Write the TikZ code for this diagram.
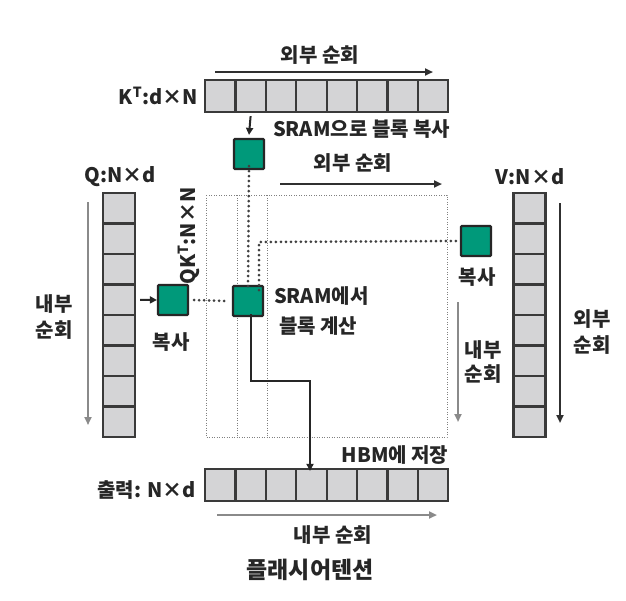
\documentclass[tikz,border=0pt]{standalone}
\usepackage{fontspec}
\setmainfont{Noto Sans CJK KR}
\usetikzlibrary{arrows.meta}
\definecolor{blockgreen}{HTML}{00997A}
\definecolor{cellgray}{HTML}{D4D4D6}
\definecolor{edgegray}{HTML}{3A3A3A}
\definecolor{arrowgray}{HTML}{8A8A8A}
\definecolor{arrowdark}{HTML}{303030}
\begin{document}
\begin{tikzpicture}[x=1pt,y=-1pt,
  cellh/.style={draw=edgegray,fill=cellgray,line width=2.2pt,minimum width=30.4pt,minimum height=32pt,inner sep=0pt},
  cellv/.style={draw=edgegray,fill=cellgray,line width=2.2pt,minimum width=32pt,minimum height=30.5pt,inner sep=0pt},
  blk/.style={draw=black!85,fill=blockgreen,line width=2.2pt,minimum size=30pt,inner sep=0pt,rounded corners=1pt},
  lbl/.style={font=\fontsize{20}{26}\selectfont\bfseries,inner sep=1pt,text=black!85,align=center},
  ttl/.style={font=\fontsize{23}{26}\selectfont\bfseries,inner sep=1pt,text=black!85},
  darrow/.style={draw=arrowdark,line width=2.6pt,-{Triangle[length=8pt,width=7pt]}},
  garrow/.style={draw=arrowgray,line width=2.6pt,-{Triangle[length=8pt,width=7pt]}},
  thinarrow/.style={draw=black!85,line width=2pt,-{Triangle[length=7pt,width=7pt]}},
  griddot/.style={draw=gray,line width=0.9pt,dash pattern=on 0.9pt off 1.6pt},
  bigdot/.style={draw=black!75,line width=3pt,line cap=round,dash pattern=on 0pt off 5pt},
  solidline/.style={draw=black!85,line width=2.4pt}
]
\useasboundingbox (0,0) rectangle (626,600);
\fill[white] (0,0) rectangle (626,600);

% dotted QK^T matrix frame
\draw[griddot] (206,195) rectangle (447,437);
\coordinate (g1t) at (237,195); \coordinate (g1b) at (237,437);
\coordinate (g2t) at (267,195); \coordinate (g2b) at (267,437);
\draw[griddot] (g1t) -- (g1b);
\draw[griddot] (g2t) -- (g2b);

% K^T row
\foreach \i in {1,...,8} \node[cellh] (k\i) at ({205+30.4*(\i-0.5)},96) {};
% output row
\foreach \i in {1,...,8} \node[cellh] (o\i) at ({205+30.4*(\i-0.5)},485) {};
% Q column
\foreach \i in {1,...,8} \node[cellv] (q\i) at (119,{193+30.5*(\i-0.5)}) {};
% V column
\foreach \i in {1,...,8} \node[cellv] (v\i) at (529.5,{193+30.5*(\i-0.5)}) {};

% green blocks
\node[blk] (bt) at (249,154) {};
\node[blk] (bc) at (248,301) {};
\node[blk] (bl) at (173,300) {};
\node[blk] (br) at (476,241) {};

% arrows into blocks
\draw[thinarrow] ([yshift=-3pt]k2.south) -- ([yshift=3pt]bt.north);
\draw[thinarrow] ([xshift=4pt]q4.east) -- (bl.west);

% dotted connections
\draw[bigdot] ([yshift=4pt]bt.south) -- ([yshift=-4pt]bc.north);
\coordinate (rc) at (259,242);
\draw[bigdot] ([xshift=-4pt]br.west) -- (rc) -- ([yshift=-6pt]bc.north -| rc);
\draw[bigdot] ([xshift=5pt]bl.east) -- ([xshift=-5pt]bc.west);

% result to HBM
\coordinate (s1) at (251,381);
\coordinate (s2) at (310,381);
\draw[solidline] ([xshift=3pt,yshift=3pt]bc.south) -- (s1) -- (s2) -- (310,455);
\draw[thinarrow] (310,454) -- ([yshift=-3pt]o4.north -| s2);

% loop arrows
\coordinate (a1s) at (215,72); \coordinate (a1e) at (433,72);
\draw[darrow] (a1s) -- (a1e);
\coordinate (a2s) at (280,184); \coordinate (a2e) at (442,184);
\draw[darrow] (a2s) -- (a2e);
\coordinate (a3s) at (88,202); \coordinate (a3e) at (88,425);
\draw[garrow] (a3s) -- (a3e);
\coordinate (a4s) at (458,302); \coordinate (a4e) at (458,422);
\draw[garrow] (a4s) -- (a4e);
\coordinate (a5s) at (560,203); \coordinate (a5e) at (560,423);
\draw[darrow] (a5s) -- (a5e);
\coordinate (a6s) at (217,515); \coordinate (a6e) at (437,515);
\draw[garrow] (a6s) -- (a6e);

% labels
\node[lbl] (t1) at (320,55) {외부 순회};
\node[lbl,anchor=east] (tk) at (199,96) {K\textsuperscript{T}:d×N};
\node[lbl,anchor=west] (t2) at (272,129) {SRAM으로 블록 복사};
\node[lbl] (t3) at (353,163) {외부 순회};
\node[lbl] (tq) at (120,177) {Q:N×d};
\node[lbl] (tv) at (530,177) {V:N×d};
\node[lbl,rotate=90] (tqk) at (189,236) {QK\textsuperscript{T}:N×N};
\node[lbl] (t4) at (54,317) {내부\\순회};
\node[lbl] (t5) at (171,342) {복사};
\node[lbl,anchor=west,align=left,font=\fontsize{20}{30}\selectfont\bfseries] (t6) at (273,311) {SRAM에서\\\hspace{5pt}블록 계산};
\node[lbl] (t7) at (477,277) {복사};
\node[lbl,font=\fontsize{20}{24}\selectfont\bfseries] (t8) at (483,362) {내부\\순회};
\node[lbl] (t9) at (592,332) {외부\\순회};
\node[lbl] (t10) at (395,455) {HBM에 저장};
\node[lbl,anchor=east] (to) at (197,490) {출력: N×d};
\node[lbl] (t11) at (333,535) {내부 순회};
\node[ttl] (title) at (310,570) {플래시어텐션};
\end{tikzpicture}
\end{document}
